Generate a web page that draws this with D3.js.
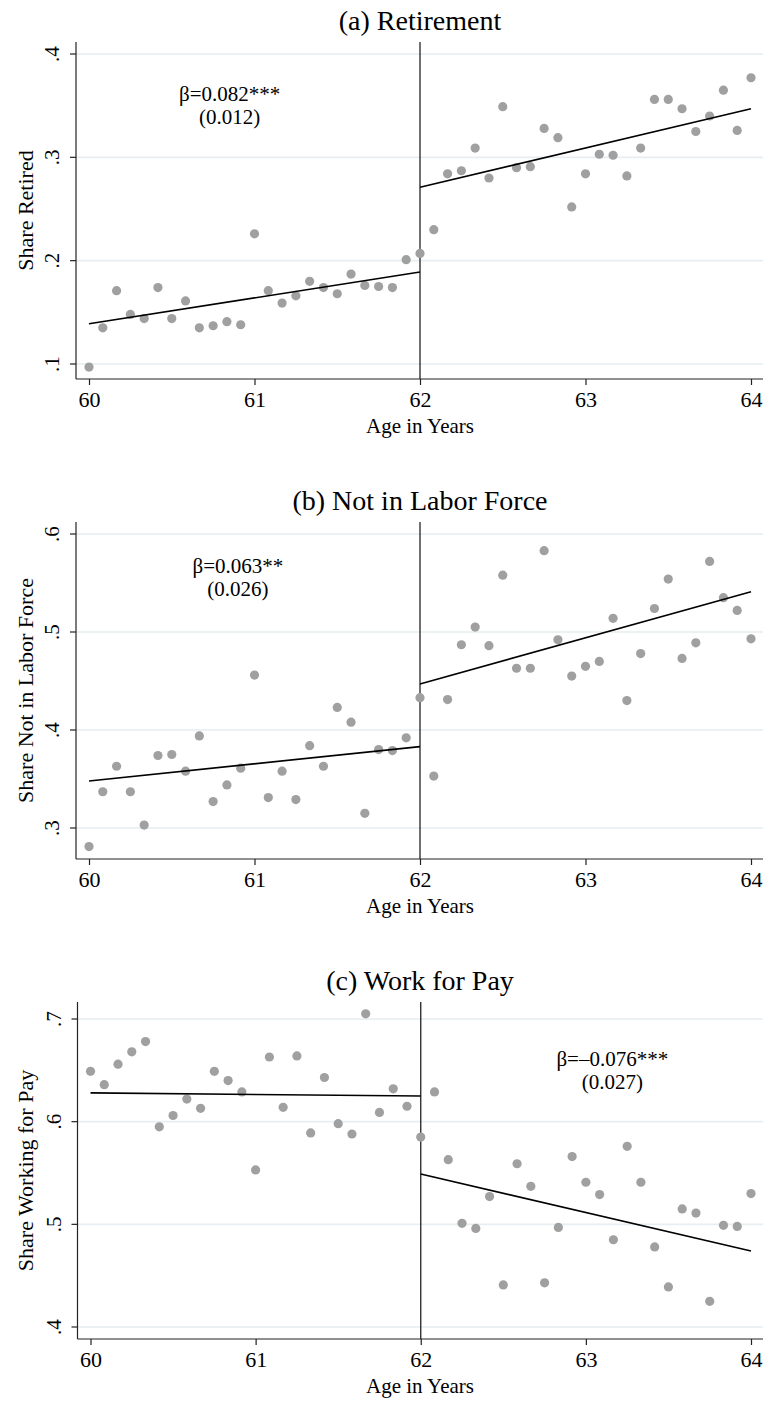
<!DOCTYPE html>
<html>
<head>
<meta charset="utf-8">
<script src="https://cdn.jsdelivr.net/npm/d3@7"></script>
<style>
  body { margin: 0; background: #fff; }
  text { font-family: "Liberation Serif", "Times New Roman", serif; fill: #000; }
</style>
</head>
<body>
<div id="chart"></div>
<script>
// Age in months, one bin per month from 60 to 64.
const ageMonths = [720, 721, 722, 723, 724, 725, 726, 727, 728, 729, 730, 731,
                   732, 733, 734, 735, 736, 737, 738, 739, 740, 741, 742, 743,
                   744, 745, 746, 747, 748, 749, 750, 751, 752, 753, 754, 755,
                   756, 757, 758, 759, 760, 761, 762, 763, 764, 765, 766, 767, 768];

// Binned means.
const shareRetired = [0.097, 0.135, 0.171, 0.148, 0.144, 0.174, 0.144, 0.161, 0.135, 0.137, 0.141, 0.138,
                      0.226, 0.171, 0.159, 0.166, 0.180, 0.174, 0.168, 0.187, 0.176, 0.175, 0.174, 0.201,
                      0.207, 0.230, 0.284, 0.287, 0.309, 0.280, 0.349, 0.290, 0.291, 0.328, 0.319, 0.252,
                      0.284, 0.303, 0.302, 0.282, 0.309, 0.356, 0.356, 0.347, 0.325, 0.340, 0.365, 0.326, 0.377];
const shareNotInLF = [0.281, 0.337, 0.363, 0.337, 0.303, 0.374, 0.375, 0.358, 0.394, 0.327, 0.344, 0.361,
                      0.456, 0.331, 0.358, 0.329, 0.384, 0.363, 0.423, 0.408, 0.315, 0.380, 0.379, 0.392,
                      0.433, 0.353, 0.431, 0.487, 0.505, 0.486, 0.558, 0.463, 0.463, 0.583, 0.492, 0.455,
                      0.465, 0.470, 0.514, 0.430, 0.478, 0.524, 0.554, 0.473, 0.489, 0.572, 0.535, 0.522, 0.493];
const shareWorkPay = [0.649, 0.636, 0.656, 0.668, 0.678, 0.595, 0.606, 0.622, 0.613, 0.649, 0.640, 0.629,
                      0.553, 0.663, 0.614, 0.664, 0.589, 0.643, 0.598, 0.588, 0.705, 0.609, 0.632, 0.615,
                      0.585, 0.629, 0.563, 0.501, 0.496, 0.527, 0.441, 0.559, 0.537, 0.443, 0.497, 0.566,
                      0.541, 0.529, 0.485, 0.576, 0.541, 0.478, 0.439, 0.515, 0.511, 0.425, 0.499, 0.498, 0.530];

// Fitted values at 60, 62 (before cutoff) and 62, 64 (after cutoff).
const fitRetiredPre = [0.139, 0.189], fitRetiredPost = [0.271, 0.347];
const fitNotInLFPre = [0.348, 0.383], fitNotInLFPost = [0.447, 0.541];
const fitWorkPayPre = [0.628, 0.625], fitWorkPayPost = [0.549, 0.474];

// Tick values.
const xTicks = [60, 61, 62, 63, 64];
const yTicksRetired = [0.1, 0.2, 0.3, 0.4];
const yTicksNotInLF = [0.3, 0.4, 0.5, 0.6];
const yTicksWorkPay = [0.4, 0.5, 0.6, 0.7];

// Labels.
const panelTitles = ['(a) Retirement', '(b) Not in Labor Force', '(c) Work for Pay'];
const yTitles = ['Share Retired', 'Share Not in Labor Force', 'Share Working for Pay'];
const betaLabels = ['β=0.082***', 'β=0.063**', 'β=–0.076***'];
const seLabels = ['(0.012)', '(0.026)', '(0.027)'];
const cutoff = 62;

// Svg.
const svg = d3.select('#chart')
    .append('svg')
    .attr('width', 766)
    .attr('height', 1404);

svg.append('rect').attr('width', 766).attr('height', 1404).attr('fill', '#fff');

// Panel layout (pixels).
const panels = [
    { values: shareRetired, pre: fitRetiredPre, post: fitRetiredPost, yTicks: yTicksRetired,
      top: 42, bottom: 379, yPx: [364, 54], xPx: [89, 751], left: 76, note: [60.85, 101] },
    { values: shareNotInLF, pre: fitNotInLFPre, post: fitNotInLFPost, yTicks: yTicksNotInLF,
      top: 522, bottom: 859, yPx: [828, 534], xPx: [89, 751], left: 76, note: [60.9, 573] },
    { values: shareWorkPay, pre: fitWorkPayPre, post: fitWorkPayPost, yTicks: yTicksWorkPay,
      top: 1002, bottom: 1339, yPx: [1327, 1019], xPx: [90.5, 751], left: 77.5, note: [63.16, 1066] }
];
const right = 763;

panels.forEach((p, i) => {
    const g = svg.append('g');

    const x = d3.scaleLinear().domain([60, 64]).range(p.xPx);
    const y = d3.scaleLinear()
        .domain([p.yTicks[0], p.yTicks[p.yTicks.length - 1]])
        .range(p.yPx);

    // Grid lines.
    g.selectAll('.grid')
        .data(p.yTicks)
        .join('line')
            .attr('x1', p.left).attr('x2', right)
            .attr('y1', d => y(d)).attr('y2', d => y(d))
            .attr('stroke', '#e6eef1')
            .attr('stroke-width', 1.6);

    // Title.
    g.append('text')
        .attr('x', 420)
        .attr('y', p.top - 12)
        .attr('text-anchor', 'middle')
        .attr('font-size', '28px')
        .text(panelTitles[i]);

    // X axis.
    const xAxis = g.append('g')
        .attr('transform', `translate(0,${p.bottom})`)
        .call(d3.axisBottom(x).tickValues(xTicks).tickFormat(d3.format('d')).tickSize(6).tickPadding(6));
    xAxis.select('.domain').remove();
    xAxis.selectAll('line').attr('stroke', '#222').attr('stroke-width', 1.2);
    xAxis.selectAll('text')
        .attr('font-size', '22px')
        .attr('font-family', '"Liberation Serif", "Times New Roman", serif');
    g.append('line')
        .attr('x1', p.left).attr('x2', right)
        .attr('y1', p.bottom).attr('y2', p.bottom)
        .attr('stroke', '#222').attr('stroke-width', 1.2);

    g.append('text')
        .attr('x', 420)
        .attr('y', p.bottom + 54)
        .attr('text-anchor', 'middle')
        .attr('font-size', '21px')
        .text('Age in Years');

    // Y axis.
    g.append('line')
        .attr('x1', p.left).attr('x2', p.left)
        .attr('y1', p.top).attr('y2', p.bottom)
        .attr('stroke', '#222').attr('stroke-width', 1.2);
    g.selectAll('.ytick')
        .data(p.yTicks)
        .join('line')
            .attr('x1', p.left - 6).attr('x2', p.left)
            .attr('y1', d => y(d)).attr('y2', d => y(d))
            .attr('stroke', '#222').attr('stroke-width', 1.2);
    g.selectAll('.ylab')
        .data(p.yTicks)
        .join('text')
            .attr('transform', d => `translate(${p.left - 17},${y(d)}) rotate(-90)`)
            .attr('text-anchor', 'middle')
            .attr('font-size', '21px')
            .text(d => d3.format('.1f')(d).replace(/^0/, ''));

    g.append('text')
        .attr('transform', `translate(33,${(p.top + p.bottom) / 2}) rotate(-90)`)
        .attr('text-anchor', 'middle')
        .attr('font-size', '22px')
        .text(yTitles[i]);

    // Cutoff line.
    g.append('line')
        .attr('x1', x(cutoff)).attr('x2', x(cutoff))
        .attr('y1', p.top).attr('y2', p.bottom)
        .attr('stroke', '#222').attr('stroke-width', 1.3);

    // Dots.
    g.selectAll('.dot')
        .data(p.values)
        .join('circle')
            .attr('cx', (d, j) => x(ageMonths[j] / 12))
            .attr('cy', d => y(d))
            .attr('r', 4.6)
            .attr('fill', '#a0a0a0');

    // Fitted lines.
    const line = d3.line().x(d => x(d[0])).y(d => y(d[1]));
    g.append('path')
        .attr('d', line([[60, p.pre[0]], [cutoff, p.pre[1]]]))
        .attr('stroke', '#000').attr('stroke-width', 1.6).attr('fill', 'none');
    g.append('path')
        .attr('d', line([[cutoff, p.post[0]], [64, p.post[1]]]))
        .attr('stroke', '#000').attr('stroke-width', 1.6).attr('fill', 'none');

    // Coefficient note.
    g.append('text')
        .attr('x', x(p.note[0]))
        .attr('y', p.note[1])
        .attr('text-anchor', 'middle')
        .attr('font-size', '21px')
        .text(betaLabels[i]);
    g.append('text')
        .attr('x', x(p.note[0]))
        .attr('y', p.note[1] + 23)
        .attr('text-anchor', 'middle')
        .attr('font-size', '21px')
        .text(seLabels[i]);
});
</script>
</body>
</html>
